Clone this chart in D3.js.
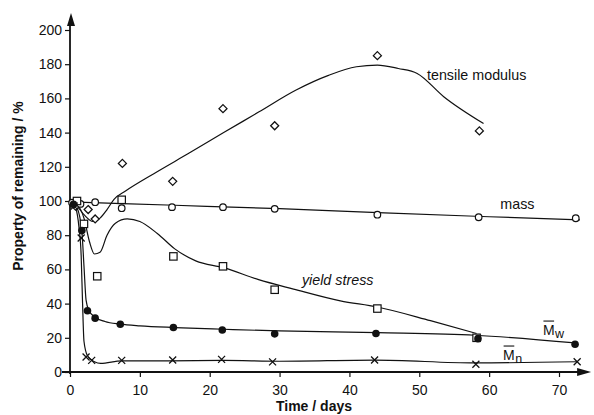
<!DOCTYPE html>
<html>
<head>
<meta charset="utf-8">
<script src="https://cdn.jsdelivr.net/npm/d3@7"></script>
<style>
  body { margin: 0; background: #fff; }
  text { font-family: "Liberation Sans", Arial, sans-serif; fill: #111; }
  .tick text { font-size: 14px; }
  .curve { fill: none; stroke: #111; stroke-width: 1.2; }
</style>
</head>
<body>
<div id="chart"></div>
<script>
// Ticks
var xTicks = [0, 10, 20, 30, 40, 50, 60, 70];
var yTicks = [0, 20, 40, 60, 80, 100, 120, 140, 160, 180, 200];

// Measured points (days, %)
var tensileDays = [0.8, 2.6, 3.6, 7.5, 14.7, 21.9, 29.3, 44, 58.6];
var tensileVals = [97, 95, 89.5, 122, 111.5, 154, 144, 185, 141];

var massDays = [0.3, 1.5, 3.6, 7.4, 14.6, 21.9, 29.3, 44, 58.5, 72.4];
var massVals = [99, 98.3, 99.3, 95.8, 96.4, 96.4, 95.4, 92, 90.5, 89.9];

var yieldDays = [1.0, 2.0, 3.9, 7.4, 14.8, 21.9, 29.3, 44, 58.2];
var yieldVals = [100, 86.6, 56, 100.7, 67.6, 61.8, 48.1, 37.1, 20];

var mwDays = [0.5, 1.7, 2.5, 3.6, 7.2, 14.8, 21.8, 29.3, 43.8, 58.4, 72.3];
var mwVals = [98, 82.7, 35.8, 31.5, 27.9, 26, 24.6, 22.3, 22.5, 19.5, 16.2];

var mnDays = [0.6, 1.6, 2.3, 3.1, 7.4, 14.7, 21.7, 29, 43.6, 58.1, 72.6];
var mnVals = [97, 78.4, 8.8, 6.8, 6.8, 7, 7.4, 5.9, 7, 4.5, 6];

// Hand-drawn trend curves (days, %)
var tensileCurve = [[0, 100], [1, 97], [2, 92], [3.3, 88], [4.3, 90], [5.3, 95], [6.3, 101], [8, 106],
    [12, 116], [17.3, 128.6], [22, 140], [27, 152], [32.3, 164.8], [37, 173.5], [41, 178.5],
    [44, 179.5], [47, 177.5], [49.7, 174.6], [53.5, 161], [59.2, 145.3]];
var massCurve = [[0, 99.5], [15, 97.5], [30, 95.5], [45, 93], [60, 90.8], [73, 89]];
var yieldCurve = [[0, 100], [1, 98], [2, 90], [2.8, 76], [3.5, 69], [4.3, 70], [5.3, 80], [6.5, 87],
    [8.2, 89.5], [10, 88], [12.5, 81], [15, 72], [18, 65], [22, 61], [27, 54], [32, 48.5],
    [38.7, 41.6], [44, 38], [51.6, 30], [58.2, 22.5]];
var mwCurve = [[0, 100], [1, 96], [1.7, 82], [2.0, 62], [2.3, 42], [2.7, 36], [3.6, 32], [5, 29.5],
    [7.2, 28], [10, 27], [15, 26], [22, 25], [30, 24], [44, 23], [58, 21.5], [72.3, 17]];
var mnCurve = [[0, 100], [0.8, 96], [1.3, 84], [1.6, 68], [1.8, 40], [2.0, 18], [2.5, 9.5], [3.5, 6],
    [4.4, 5], [7.4, 6.5], [14, 6.5], [22, 6.8], [30, 6.3], [43.6, 7], [58, 5.3], [72.6, 6]];

var svgWidth = 594;
var svgHeight = 415;

var svg = d3.select("#chart")
  .append("svg")
  .attr("width", svgWidth)
  .attr("height", svgHeight);

var x = d3.scaleLinear().domain([0, 70]).range([70, 559]);
var y = d3.scaleLinear().domain([0, 200]).range([372, 30]);

// Axes
var xAxis = svg.append("g")
  .attr("transform", `translate(0, ${y(0)})`)
  .call(d3.axisBottom(x).tickValues(xTicks).tickSize(5).tickSizeOuter(0).tickPadding(8));
xAxis.select(".domain").remove();
xAxis.selectAll(".tick line").attr("stroke", "#111").attr("stroke-width", 1.2);

var yAxis = svg.append("g")
  .attr("transform", `translate(${x(0)}, 0)`)
  .call(d3.axisLeft(y).tickValues(yTicks).tickSize(5).tickSizeOuter(0).tickPadding(3));
yAxis.select(".domain").remove();
yAxis.selectAll(".tick line").attr("stroke", "#111").attr("stroke-width", 1.2);

// axis lines with arrow heads
var xEnd = x(74.6);
var yTop = y(210);
svg.append("line")
  .attr("x1", x(0) - 8).attr("x2", xEnd - 10)
  .attr("y1", y(0)).attr("y2", y(0))
  .attr("stroke", "#111").attr("stroke-width", 1.8);
svg.append("path")
  .attr("d", `M${xEnd},${y(0)} L${xEnd - 14},${y(0) - 4} L${xEnd - 14},${y(0) + 4} Z`)
  .attr("fill", "#111");
svg.append("line")
  .attr("x1", x(0)).attr("x2", x(0))
  .attr("y1", y(0) + 2).attr("y2", yTop + 10)
  .attr("stroke", "#111").attr("stroke-width", 1.8);
svg.append("path")
  .attr("d", `M${x(0) + 1},${yTop} L${x(0) - 3},${yTop + 13} L${x(0) + 5},${yTop + 13} Z`)
  .attr("fill", "#111");

// Axis titles
svg.append("text")
  .attr("x", 314)
  .attr("y", 411)
  .attr("text-anchor", "middle")
  .attr("font-size", "14px")
  .attr("font-weight", "bold")
  .text("Time / days");

svg.append("text")
  .attr("transform", "translate(23, 186) rotate(-90)")
  .attr("text-anchor", "middle")
  .attr("font-size", "14px")
  .attr("font-weight", "bold")
  .text("Property of remaining / %");

// Curves
var line = d3.line()
  .x(d => x(d[0]))
  .y(d => y(d[1]))
  .curve(d3.curveMonotoneX);

[tensileCurve, massCurve, yieldCurve, mwCurve, mnCurve].forEach(function(c) {
  svg.append("path")
    .datum(c)
    .attr("class", "curve")
    .attr("d", line);
});

function zip(days, vals) {
  return days.map((d, i) => ({ day: d, val: vals[i] }));
}

// Markers
svg.append("g").selectAll("path")
  .data(zip(tensileDays, tensileVals))
  .enter()
  .append("path")
  .attr("transform", d => `translate(${x(d.day)}, ${y(d.val)})`)
  .attr("d", "M0,-4 L4,0 L0,4 L-4,0 Z")
  .attr("fill", "#fff")
  .attr("stroke", "#111")
  .attr("stroke-width", 1.3);

svg.append("g").selectAll("circle")
  .data(zip(massDays, massVals))
  .enter()
  .append("circle")
  .attr("cx", d => x(d.day))
  .attr("cy", d => y(d.val))
  .attr("r", 3.3)
  .attr("fill", "#fff")
  .attr("stroke", "#111")
  .attr("stroke-width", 1.2);

svg.append("g").selectAll("rect")
  .data(zip(yieldDays, yieldVals))
  .enter()
  .append("rect")
  .attr("x", d => x(d.day) - 3.7)
  .attr("y", d => y(d.val) - 3.7)
  .attr("width", 7.4)
  .attr("height", 7.4)
  .attr("fill", "#fff")
  .attr("stroke", "#111")
  .attr("stroke-width", 1.2);

svg.append("g").selectAll("circle")
  .data(zip(mwDays, mwVals))
  .enter()
  .append("circle")
  .attr("cx", d => x(d.day))
  .attr("cy", d => y(d.val))
  .attr("r", 3.8)
  .attr("fill", "#111");

svg.append("g").selectAll("path")
  .data(zip(mnDays, mnVals))
  .enter()
  .append("path")
  .attr("transform", d => `translate(${x(d.day)}, ${y(d.val)})`)
  .attr("d", "M-3.5,-3.5 L3.5,3.5 M-3.5,3.5 L3.5,-3.5")
  .attr("fill", "none")
  .attr("stroke", "#111")
  .attr("stroke-width", 1.3);

// Curve labels
svg.append("text")
  .attr("x", x(51.1)).attr("y", y(170.8))
  .attr("font-size", "14.3px")
  .text("tensile modulus");

svg.append("text")
  .attr("x", x(61.6)).attr("y", y(95.3))
  .attr("font-size", "14.3px")
  .text("mass");

svg.append("text")
  .attr("x", x(33.2)).attr("y", y(50.9))
  .attr("font-size", "14.3px")
  .attr("font-style", "italic")
  .text("yield stress");

function molarLabel(day, val, sub) {
  var g = svg.append("g");
  var m = g.append("text")
    .attr("x", x(day)).attr("y", y(val))
    .attr("font-size", "14px")
    .text("M");
  var box = m.node().getBBox();
  g.append("text")
    .attr("x", box.x + box.width + 0.5).attr("y", y(val) + 3)
    .attr("font-size", "12.5px")
    .text(sub);
  g.append("line")
    .attr("x1", box.x + 0.5).attr("x2", box.x + box.width - 0.5)
    .attr("y1", box.y - 1).attr("y2", box.y - 1)
    .attr("stroke", "#111").attr("stroke-width", 1.1);
}
molarLabel(67.7, 21.6, "w");
molarLabel(62.0, 7.0, "n");
</script>
</body>
</html>
